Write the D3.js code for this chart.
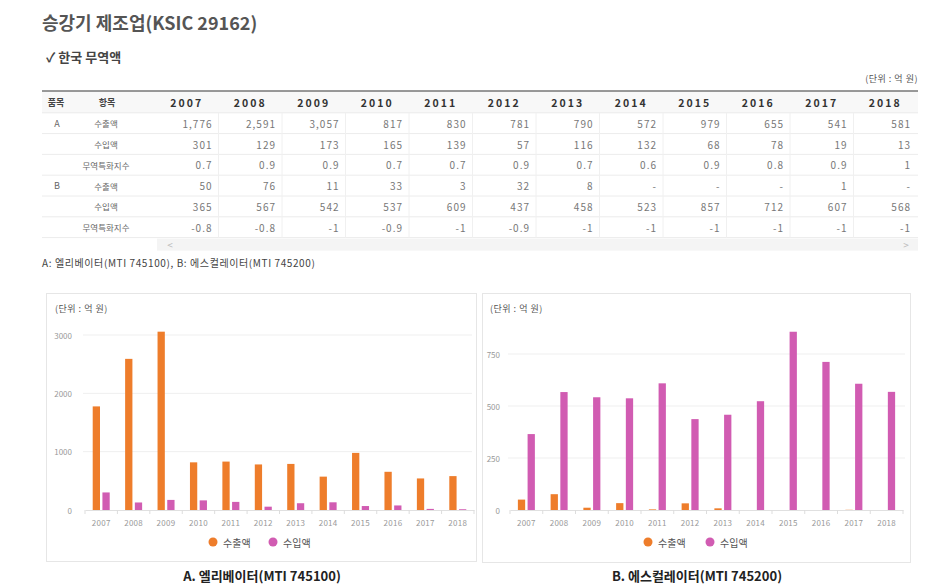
<!DOCTYPE html>
<html><head><meta charset="utf-8">
<script src="https://cdn.jsdelivr.net/npm/d3@7"></script>
<style>
html,body{margin:0;padding:0;background:#fff;}
svg{display:block;font-family:"Noto Sans CJK KR","Noto Sans",sans-serif;}
</style></head>
<body><svg id="c" width="931" height="586"></svg>
<script>
// ---- data ----
const years = ["2007","2008","2009","2010","2011","2012","2013","2014","2015","2016","2017","2018"];
const aExport = [1776,2591,3057,817,830,781,790,572,979,655,541,581];
const aImport = [301,129,173,165,139,57,116,132,68,78,19,13];
const aIndex  = [0.7,0.9,0.9,0.7,0.7,0.9,0.7,0.6,0.9,0.8,0.9,1];
const bExport = [50,76,11,33,3,32,8,null,null,null,1,null];
const bImport = [365,567,542,537,609,437,458,523,857,712,607,568];
const bIndex  = [-0.8,-0.8,-1,-0.9,-1,-0.9,-1,-1,-1,-1,-1,-1];
const seriesNames = ["수출액","수입액"];
const aTicks = [0,1000,2000,3000];
const bTicks = [0,250,500,750];
const colors = ["#EE7D2B","#D15CB2"];

const svg = d3.select("#c");
svg.append("rect").attr("width",931).attr("height",586).attr("fill","#fff");

// ---- titles ----
svg.append("text").attr("x",42).attr("y",22).attr("dominant-baseline","central")
  .attr("font-size",18).attr("font-weight","bold").attr("fill","#555").text("승강기 제조업(KSIC 29162)");
svg.append("text").attr("x",46).attr("y",56).attr("dominant-baseline","central")
  .attr("font-size",13).attr("font-weight","bold").attr("fill","#444").text("✓ 한국 무역액");
svg.append("text").attr("x",918).attr("y",78).attr("dominant-baseline","central").attr("text-anchor","end")
  .attr("font-size",9).attr("letter-spacing",0.5).attr("fill","#555").text("(단위 : 억 원)");

// ---- table ----
const tLeft = 42, tRight = 918, tTop = 91;
const rowH = 20.8;
const colX = d3.scaleBand().domain(years).range([155, 917]);
const tbl = svg.append("g");
tbl.append("rect").attr("x",tLeft).attr("y",tTop).attr("width",tRight-tLeft).attr("height",rowH+1).attr("fill","#f8f8f8");
const rows = [
  {g:"A", item:"수출액", vals:aExport, fmt:d3.format(",")},
  {g:"", item:"수입액", vals:aImport, fmt:d3.format(",")},
  {g:"", item:"무역특화지수", vals:aIndex, fmt:v=>String(v)},
  {g:"B", item:"수출액", vals:bExport, fmt:d3.format(",")},
  {g:"", item:"수입액", vals:bImport, fmt:d3.format(",")},
  {g:"", item:"무역특화지수", vals:bIndex, fmt:v=>String(v)}
];
for(let i=1;i<=rows.length+1;i++){
  tbl.append("line").attr("x1",tLeft).attr("x2",tRight)
    .attr("y1",tTop+i*rowH+1).attr("y2",tTop+i*rowH+1).attr("stroke","#ececec").attr("stroke-width",1);
}
years.forEach((y,i)=>{
  if(i>0) tbl.append("line").attr("x1",colX(y)).attr("x2",colX(y)).attr("y1",tTop+rowH+1).attr("y2",tTop+(rows.length+1)*rowH+1)
    .attr("stroke","#f0f0f0");
});
tbl.append("line").attr("x1",tLeft).attr("x2",tRight).attr("y1",tTop).attr("y2",tTop).attr("stroke","#777").attr("stroke-width",1.5);
const hy = tTop + rowH/2 + 1;
tbl.append("text").attr("x",56).attr("y",hy).attr("text-anchor","middle").attr("dominant-baseline","central")
  .attr("font-size",9).attr("font-weight","bold").attr("fill","#444").text("품목");
tbl.append("text").attr("x",107).attr("y",hy).attr("text-anchor","middle").attr("dominant-baseline","central")
  .attr("font-size",9).attr("font-weight","bold").attr("fill","#444").text("항목");
years.forEach(y=>{
  tbl.append("text").attr("x",colX(y)+colX.bandwidth()/2).attr("y",hy).attr("text-anchor","middle").attr("dominant-baseline","central")
    .attr("font-size",10.5).attr("letter-spacing",2).attr("font-weight","bold").attr("fill","#333").text(y);
});
rows.forEach((r,i)=>{
  const cy = tTop + (i+1)*rowH + rowH/2 + 1;
  if(r.g) tbl.append("text").attr("x",57).attr("y",cy).attr("text-anchor","middle").attr("dominant-baseline","central")
    .attr("font-size",9).attr("fill","#666").text(r.g);
  tbl.append("text").attr("x",106).attr("y",cy).attr("text-anchor","middle").attr("dominant-baseline","central")
    .attr("font-size",8.5).attr("fill","#666").text(r.item);
  r.vals.forEach((v,j)=>{
    tbl.append("text").attr("x",colX(years[j])+colX.bandwidth()-6).attr("y",cy).attr("text-anchor","end").attr("dominant-baseline","central")
      .attr("font-size",10).attr("letter-spacing",1).attr("fill","#777").text(v==null?"-":r.fmt(v));
  });
});
const sy = tTop + (rows.length+1)*rowH + 2;
tbl.append("rect").attr("x",157).attr("y",sy).attr("width",tRight-157).attr("height",12).attr("fill","#f4f4f4");
tbl.append("text").attr("x",170).attr("y",sy+6).attr("text-anchor","middle").attr("dominant-baseline","central").attr("font-size",10).attr("fill","#bbb").text("<");
tbl.append("text").attr("x",906).attr("y",sy+6).attr("text-anchor","middle").attr("dominant-baseline","central").attr("font-size",10).attr("fill","#bbb").text(">");
svg.append("text").attr("x",42).attr("y",262).attr("dominant-baseline","central")
  .attr("font-size",10).attr("letter-spacing",0.6).attr("fill","#444").text("A: 엘리베이터(MTI 745100), B: 에스컬레이터(MTI 745200)");

// ---- charts ----
function chart(o){
  const g = svg.append("g");
  g.append("rect").attr("x",o.box[0]+0.5).attr("y",o.box[1]+0.5).attr("width",o.box[2]-o.box[0]).attr("height",o.box[3]-o.box[1])
    .attr("fill","#fff").attr("stroke","#e6e6e6");
  g.append("text").attr("x",o.unitX).attr("y",308).attr("dominant-baseline","central").attr("font-size",9).attr("letter-spacing",0.5).attr("fill","#555").text("(단위 : 억 원)");
  const y = d3.scaleLinear().domain([0,o.ticks[o.ticks.length-1]]).range([510,o.topY]);
  const x0 = d3.scaleBand().domain(years).range(o.xr);
  const x1 = d3.scaleBand().domain(seriesNames).range([-8.5,8.5]).paddingInner(0.25);
  o.ticks.forEach(t=>{
    if(t>0) g.append("line").attr("x1",o.grid[0]).attr("x2",o.grid[1]).attr("y1",y(t)).attr("y2",y(t)).attr("stroke","#efefef");
    g.append("text").attr("x",o.labX).attr("y",y(t)).attr("text-anchor","end").attr("dominant-baseline","central")
      .attr("font-size",8).attr("fill","#999").text(t);
  });
  const data = years.map((yr,i)=>({yr, vals:[o.exp[i]||0, o.imp[i]||0]}));
  const grp = g.selectAll("g.yr").data(data).join("g").attr("transform",d=>`translate(${x0(d.yr)+x0.bandwidth()/2},0)`);
  grp.selectAll("rect").data(d=>d.vals.map((v,k)=>({k,v}))).join("rect")
    .attr("x",d=>x1(seriesNames[d.k])).attr("width",x1.bandwidth())
    .attr("y",d=>y(d.v)).attr("height",d=>y(0)-y(d.v)).attr("fill",d=>colors[d.k]);
  const ax = g.append("g").attr("transform","translate(0,510)");
  ax.call(d3.axisBottom(x0).tickSize(0).tickPadding(10));
  ax.select(".domain").attr("stroke","#e0e0e0");
  ax.selectAll("text").attr("font-size",8).attr("letter-spacing",0.3).attr("fill","#999").attr("font-family","'Noto Sans CJK KR',sans-serif");
  years.forEach((yr,i)=>{
    g.append("line").attr("x1",x0(yr)).attr("x2",x0(yr)).attr("y1",510).attr("y2",514).attr("stroke","#ddd");
  });
  g.append("line").attr("x1",o.xr[1]).attr("x2",o.xr[1]).attr("y1",510).attr("y2",514).attr("stroke","#ddd");
  seriesNames.forEach((s,k)=>{
    g.append("circle").attr("cx",o.leg[k]).attr("cy",542).attr("r",4.5).attr("fill",colors[k]);
    g.append("text").attr("x",o.leg[k]+10).attr("y",542).attr("dominant-baseline","central").attr("font-size",10).attr("fill","#555").text(s);
  });
  g.append("text").attr("x",o.capX).attr("y",575).attr("text-anchor","middle").attr("dominant-baseline","central")
    .attr("font-size",13).attr("font-weight","bold").attr("fill","#222").text(o.cap);
}
chart({box:[46,293,476,561], unitX:55, ticks:aTicks, topY:335, xr:[85,474], grid:[83,472], labX:72,
  exp:aExport, imp:aImport, leg:[213,273], capX:262, cap:"A. 엘리베이터(MTI 745100)"});
chart({box:[482,293,910,562], unitX:490, ticks:bTicks, topY:354, xr:[510,903], grid:[508,905], labX:500,
  exp:bExport, imp:bImport, leg:[648,710], capX:697, cap:"B. 에스컬레이터(MTI 745200)"});
</script></body></html>
